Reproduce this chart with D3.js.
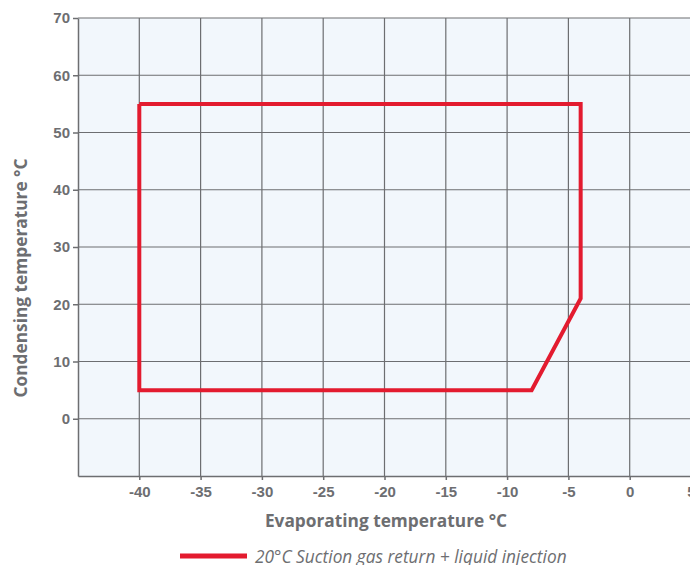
<!DOCTYPE html>
<html>
  <head>
    <meta charset="utf-8">
    <title>Operating envelope</title>
    <style>
      body { margin: 0; background: #fff; }
      svg { font-family: "Open Sans", "Noto Sans", sans-serif; }
      .axis text { font-size: 15px; font-weight: bold; fill: #6d6e71; }
      .axis path, .axis line { stroke: #6d6e71; stroke-width: 1.5px; }
      .grid line { stroke: #6d6e71; stroke-width: 1.2px; }
      .title { font-size: 17.3px; font-weight: bold; fill: #6d6e71; text-anchor: middle; }
      .legend text { font-size: 17.3px; font-style: italic; fill: #6d6e71; }
    </style>
  </head>
  <body>
    <svg width="690" height="565"></svg>

    <script src="https://d3js.org/d3.v7.min.js"></script>
    <script>
      // envelope outline (evaporating, condensing) in °C
      const evapTemps = [-40, -4, -4, -8, -40, -40];
      const condTemps = [55, 55, 21, 5, 5, 55];
      const xTicks = [-40, -35, -30, -25, -20, -15, -10, -5, 0, 5];
      const yTicks = [0, 10, 20, 30, 40, 50, 60, 70];
      const seriesName = '20°C Suction gas return + liquid injection';

      const width = 690;
      const height = 565;
      const margin = { top: 18, right: -1, bottom: 89, left: 78 };

      const svg = d3.select('svg')
        .attr('width', width)
        .attr('height', height);

      const x = d3.scaleLinear()
        .domain([-45, 5])
        .range([margin.left, width - margin.right]);

      const y = d3.scaleLinear()
        .domain([-10, 70])
        .range([height - margin.bottom, margin.top]);

      // plot background
      svg.append('rect')
        .attr('x', x(-45))
        .attr('y', y(70))
        .attr('width', x(5) - x(-45))
        .attr('height', y(-10) - y(70))
        .attr('fill', '#f2f7fc');

      // grid
      const grid = svg.append('g').attr('class', 'grid');
      grid.selectAll('.v')
        .data(xTicks)
        .enter()
        .append('line')
        .attr('x1', d => x(d)).attr('x2', d => x(d))
        .attr('y1', y(70)).attr('y2', y(-10));
      grid.selectAll('.h')
        .data(yTicks)
        .enter()
        .append('line')
        .attr('x1', x(-45)).attr('x2', x(5))
        .attr('y1', d => y(d)).attr('y2', d => y(d));

      // axes
      svg.append('g')
        .attr('class', 'axis')
        .attr('transform', `translate(0, ${y(-10)})`)
        .call(d3.axisBottom(x).tickValues(xTicks).tickSize(4).tickPadding(6).tickSizeOuter(0)
          .tickFormat(d3.format('d')));

      svg.append('g')
        .attr('class', 'axis')
        .attr('transform', `translate(${x(-45)}, 0)`)
        .call(d3.axisLeft(y).tickValues(yTicks).tickSize(5).tickPadding(3).tickSizeOuter(0)
          .tickFormat(d3.format('d')));

      // the minus sign as plain hyphen, like the source
      svg.selectAll('.axis text').text(function () {
        return d3.select(this).text().replace('−', '-');
      });

      // envelope line
      svg.append('path')
        .datum(evapTemps.map((e, i) => [e, condTemps[i]]))
        .attr('fill', 'none')
        .attr('stroke', '#e31b2f')
        .attr('stroke-width', 4)
        .attr('stroke-linejoin', 'miter')
        .attr('d', d3.line().x(d => x(d[0])).y(d => y(d[1])));

      // axis titles
      svg.append('text')
        .attr('class', 'title')
        .attr('x', 386)
        .attr('y', 527)
        .text('Evaporating temperature °C');

      svg.append('text')
        .attr('class', 'title')
        .attr('transform', 'translate(27, 278) rotate(-90)')
        .text('Condensing temperature °C');

      // legend
      const legend = svg.append('g').attr('class', 'legend');
      legend.append('line')
        .attr('x1', 180).attr('x2', 247)
        .attr('y1', 556).attr('y2', 556)
        .attr('stroke', '#e31b2f')
        .attr('stroke-width', 5);
      legend.append('text')
        .attr('x', 255)
        .attr('y', 563)
        .text(seriesName);
    </script>
  </body>
</html>
